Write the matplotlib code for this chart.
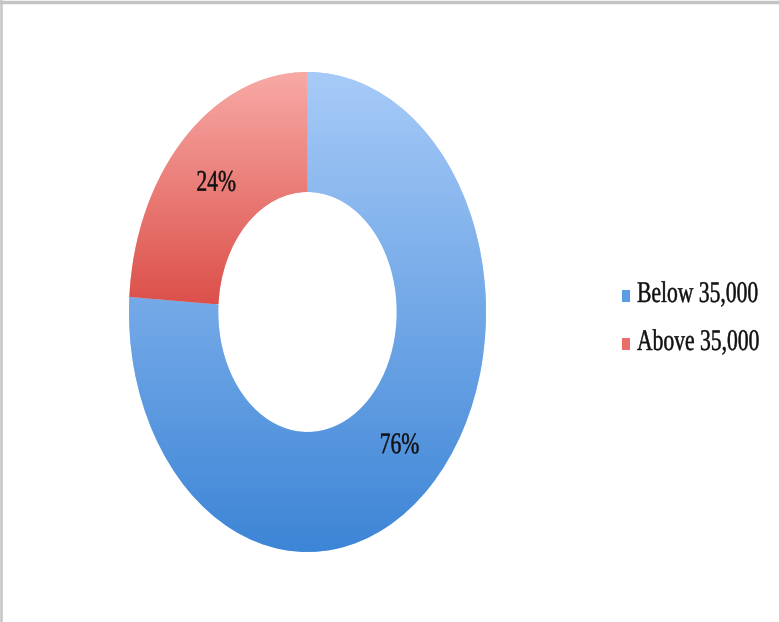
import matplotlib
matplotlib.use('Agg')

import matplotlib.pyplot as plt
import numpy as np
from matplotlib.colors import LinearSegmentedColormap
from matplotlib.lines import Line2D
from matplotlib.patches import PathPatch, Rectangle
from matplotlib.textpath import TextPath
from matplotlib.font_manager import FontProperties
from matplotlib.transforms import Affine2D

# Data
labels = ['Below 35,000', 'Above 35,000']
values = [76, 24]
top_colors = ['#a7cbf8', '#f8aaa6']
bottom_colors = ['#3d85d6', '#dc504a']
legend_colors = ['#5b9be3', '#e8706b']

W, H = 779, 622
fig = plt.figure(figsize=(W / 100, H / 100), dpi=100)
ax = fig.add_axes([129 / W, 70 / H, 357 / W, 480 / H])

wedges, texts, autotexts = ax.pie(values, startangle=90, counterclock=False,
                                  colors=top_colors, radius=1.0,
                                  wedgeprops=dict(width=0.5, linewidth=0),
                                  autopct='%d%%', pctdistance=0.75)

# vertical gradient fill inside each wedge, spanning the wedge's own height
grad = np.linspace(0, 1, 256).reshape(-1, 1)
for w, c_top, c_bot in zip(wedges, top_colors, bottom_colors):
    ext = w.get_path().get_extents()
    cmap = LinearSegmentedColormap.from_list('g', [c_top, c_bot])
    im = ax.imshow(grad, cmap=cmap, extent=[-1, 1, ext.y0, ext.y1], origin='upper',
                   aspect='auto', zorder=w.get_zorder() + 0.1)
    im.set_clip_path(w)

ax.set_xlim(-1, 1)
ax.set_ylim(-1, 1)
ax.set_aspect('auto')
ax.axis('off')

# text in the reference is a condensed Times, so draw it as squeezed paths
fp = FontProperties(family='Liberation Serif')
SIZE = 30
XSCALE = 0.72


def squeezed(s, x, y, ha='left', color='#111111'):
    # x, y in pixels from the top-left corner, y is the baseline
    tp = TextPath((0, 0), s, size=SIZE, prop=fp)
    ext = tp.get_extents()
    w = ext.x1 * XSCALE
    dx = {'left': 0, 'center': -w / 2}[ha]
    tr = Affine2D().scale(XSCALE, 1).translate(x + dx, H - y)
    fig.add_artist(PathPatch(tp, transform=tr, facecolor=color, edgecolor=color,
                             linewidth=0.3, zorder=10))


fig.canvas.draw()
for t in autotexts:
    t.set_visible(False)
    px, py = ax.transData.transform(t.get_position())
    squeezed(t.get_text(), px, H - py + 10, ha='center')

# legend
rows_y = [302, 350]
for lab, col, by in zip(labels, legend_colors, rows_y):
    fig.add_artist(Rectangle((622, H - by), 8, 12, transform=None,
                             facecolor=col, edgecolor='none'))
    squeezed(lab, 637, by)

# grey frame on top and left edges
fig.add_artist(Line2D([0, 1], [0.997, 0.997], transform=fig.transFigure, color='#c4c4c4', linewidth=2.5))
fig.add_artist(Line2D([0.0015, 0.0015], [0, 1], transform=fig.transFigure, color='#c4c4c4', linewidth=1.8))

fig.savefig('out.png', dpi=100)
